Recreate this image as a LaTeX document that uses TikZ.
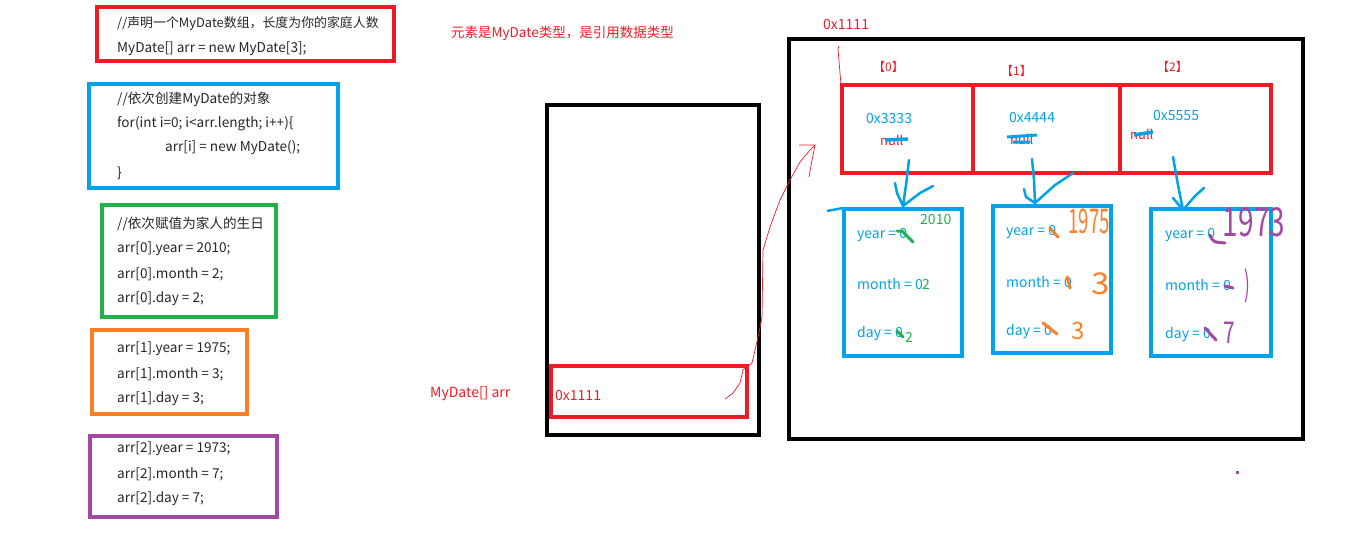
\documentclass[tikz,border=0pt]{standalone}
\usepackage{fontspec}
\usepackage{graphicx}
\setmainfont{Noto Sans CJK SC}
\usetikzlibrary{calc}
\definecolor{pred}{RGB}{237,28,36}
\definecolor{pblue}{RGB}{0,162,232}
\definecolor{pgreen}{RGB}{34,177,76}
\definecolor{porange}{RGB}{255,127,39}
\definecolor{ppurple}{RGB}{163,73,164}
\tikzset{
  frame/.style={draw, line width=4pt, inner sep=0pt, outer sep=0pt, anchor=north west, fill=none},
  code/.style={anchor=west, inner sep=0pt, font=\fontsize{13.6}{15}\selectfont, text=black!85},
  mem/.style={anchor=west, inner sep=0pt, font=\fontsize{14}{16}\selectfont, text=pblue},
  redtxt/.style={anchor=west, inner sep=0pt, font=\fontsize{13.5}{15}\selectfont, text=pred},
  idx/.style={anchor=west, inner sep=0pt, font=\fontsize{12}{14}\selectfont, text=pred},
  hand/.style={anchor=center, inner sep=0pt},
  pen/.style={line width=3pt, line cap=round, line join=round},
  thin/.style={draw=pred, line width=0.7pt},
}
\begin{document}
\begin{tikzpicture}[x=1pt,y=-1pt]
\path[use as bounding box] (0,0) rectangle (1352,539);

% code boxes
\node[frame, draw=pred, minimum width=297pt, minimum height=54pt] (cb1) at (97,7) {};
\node[code, font=\fontsize{12.9}{15}\selectfont] (c1a) at (117,24) {//声明一个MyDate数组，长度为你的家庭人数};
\node[code] (c1b) at (117,49) {MyDate[] arr = new MyDate[3];};

\node[frame, draw=pblue, minimum width=249pt, minimum height=104pt] (cb2) at (89,84) {};
\node[code] (c2a) at (117,99) {//依次创建MyDate的对象};
\node[code] (c2b) at (117,124) {for(int i=0; i<arr.length; i++)\{};
\node[code] (c2c) at (165,148) {arr[i] = new MyDate();};
\node[code] (c2d) at (117,173) {\}};

\node[frame, draw=pgreen, minimum width=174pt, minimum height=112pt] (cb3) at (102,205) {};
\node[code] (c3a) at (117,224) {//依次赋值为家人的生日};
\node[code] (c3b) at (117,249) {arr[0].year = 2010;};
\node[code] (c3c) at (117,274) {arr[0].month = 2;};
\node[code] (c3d) at (117,299) {arr[0].day = 2;};

\node[frame, draw=porange, minimum width=155pt, minimum height=84pt] (cb4) at (92,330) {};
\node[code] (c4a) at (117,349) {arr[1].year = 1975;};
\node[code] (c4b) at (117,374) {arr[1].month = 3;};
\node[code] (c4c) at (117,399) {arr[1].day = 3;};

\node[frame, draw=ppurple, minimum width=187pt, minimum height=81pt] (cb5) at (90,436) {};
\node[code] (c5a) at (117,449) {arr[2].year = 1973;};
\node[code] (c5b) at (117,474) {arr[2].month = 7;};
\node[code] (c5c) at (117,499) {arr[2].day = 7;};

% notes
\node[redtxt] (note) at (451,33) {元素是MyDate类型，是引用数据类型};
\node[redtxt, font=\fontsize{14}{16}\selectfont] (arrlbl) at (430,394) {MyDate[] arr};
\node[redtxt, font=\fontsize{14}{16}\selectfont] (heapaddr) at (823,25) {0x1111};

% stack
\node[frame, draw=black, minimum width=212pt, minimum height=330pt] (stack) at (547,105) {};
\node[frame, draw=pred, minimum width=196pt, minimum height=51pt] (var) at (551,366) {};
\node[redtxt, font=\fontsize{14}{16}\selectfont] (varval) at (555,396) {0x1111};

% heap
\node[frame, draw=black, minimum width=514pt, minimum height=400pt] (heap) at (789,39) {};
\node[frame, draw=pred, minimum width=429pt, minimum height=88pt] (array) at (842,85) {};
\draw[pred, line width=4pt] (973,85) -- (973,173) (1120,85) -- (1120,173);
\node[idx] (i0) at (873,67) {【0】};
\node[idx] (i1) at (1001,71) {【1】};
\node[idx] (i2) at (1157,67) {【2】};

\node[mem] (a0) at (866,119) {0x3333};
\node[mem] (a1) at (1009,118) {0x4444};
\node[mem] (a2) at (1153,116) {0x5555};
\node[redtxt, font=\fontsize{13}{15}\selectfont] (n0) at (880,140) {null};
\node[redtxt, font=\fontsize{13}{15}\selectfont] (n1) at (1010,139) {null};
\node[redtxt, font=\fontsize{13}{15}\selectfont] (n2) at (1130,134) {null};
\draw[pblue, line width=3.5pt] (885,140) -- (908,139);
\draw[pblue, line width=3pt] (1007,137) -- (1037,135) (1013,142) -- (1030,142);
\draw[pblue, line width=3.5pt] (1134,135) -- (1153,132);

% objects
\node[frame, draw=pblue, minimum width=118pt, minimum height=147pt] (o0) at (844,209) {};
\node[frame, draw=pblue, minimum width=118pt, minimum height=147pt] (o1) at (993,206) {};
\node[frame, draw=pblue, minimum width=120pt, minimum height=147pt] (o2) at (1151,209) {};

\node[mem] (y0) at (857,235) {year = 0};
\node[mem] (m0) at (857,284) {month = 0};
\node[mem] (d0) at (857,334) {day = 0};
\node[mem] (y1) at (1006,232) {year = 0};
\node[mem] (m1) at (1006,282) {month = 0};
\node[mem] (d1) at (1006,332) {day = 0};
\node[mem] (y2) at (1165,235) {year = 0};
\node[mem] (m2) at (1165,285) {month = 0};
\node[mem] (d2) at (1165,335) {day = 0};

% green values
\node[mem, text=pgreen] (g2010) at (920,220) {2010};
\node[mem, text=pgreen] (gm) at (922,284) {2};
\node[mem, text=pgreen] (gd) at (905,337) {2};
\draw[pgreen, pen] (897,231) -- (902,231) -- (913,242);
\draw[pgreen, pen] (897,331) -- (903,337);

% orange handwritten
\node[hand, text=porange] (h1975) at (1089,221) {\scalebox{0.55}[1]{\fontsize{34}{34}\selectfont 1975}};
\node[hand, text=porange] (h3a) at (1101,284) {\scalebox{1.1}[1]{\fontsize{30}{30}\selectfont 3}};
\node[hand, text=porange] (h3b) at (1078,331) {\scalebox{1}[1]{\fontsize{24}{24}\selectfont 3}};
\draw[porange, pen] (1050,228) -- (1058,237);
\draw[porange, pen] (1067,277) -- (1070,288);
\draw[porange, pen] (1043,323) -- (1057,334);

% purple handwritten
\node[hand, text=ppurple] (h1973) at (1254,222) {\scalebox{0.7}[1]{\fontsize{40}{40}\selectfont 1973}};
\node[hand, text=ppurple] (h7a) at (1247,286) {\scalebox{0.5}[1]{\fontsize{34}{34}\selectfont )}};
\node[hand, text=ppurple] (h7b) at (1229,333) {\scalebox{0.7}[1]{\fontsize{30}{30}\selectfont 7}};
\draw[ppurple, pen] (1210,235) .. controls (1213,242) .. (1225,243);
\draw[ppurple, pen] (1225,286) -- (1233,288);
\draw[ppurple, pen] (1205,328) -- (1216,340);
\fill[ppurple] (1236,471) rectangle (1239,474);

% blue arrows (hand drawn)
\coordinate (s0) at (909,160); \coordinate (e0) at (903,206);
\draw[pblue, line width=2.5pt, line cap=round, line join=round]
  (s0) -- (906,185) -- (e0) (895,183) -- (897,193) -- (e0) -- (920,193) -- (933,186);
\coordinate (s1) at (1032,159); \coordinate (e1) at (1035,203);
\draw[pblue, line width=2.5pt, line cap=round, line join=round]
  (s1) -- (1034,180) -- (e1) (1024,189) -- (1026,197) -- (e1) -- (1055,185) -- (1073,173);
\coordinate (s2) at (1173,157); \coordinate (e2) at (1183,210);
\draw[pblue, line width=2.5pt, line cap=round, line join=round]
  (s2) -- (1178,185) -- (e2) (1173,198) -- (e2) -- (1195,196) -- (1204,188);
\draw[pblue, line width=2.5pt] (827,211) -- (843,208);

% red pointer (hand drawn)
\coordinate (p0) at (725,399);
\coordinate (p1) at (815,145);
\draw[thin] (p0) -- (733,393) -- (740,383) -- (743,370) -- (752,363) -- (759,333) -- (762,317) -- (763,250)
  -- (770,227) -- (780,200) -- (790,180) -- (800,162) -- (810,150) -- (p1);
\draw[thin] (799,145) -- (p1) -- (812,160) -- (809,177);
\draw[thin] (839,46) -- (838,49) -- (842,97);
\end{tikzpicture}
\end{document}
